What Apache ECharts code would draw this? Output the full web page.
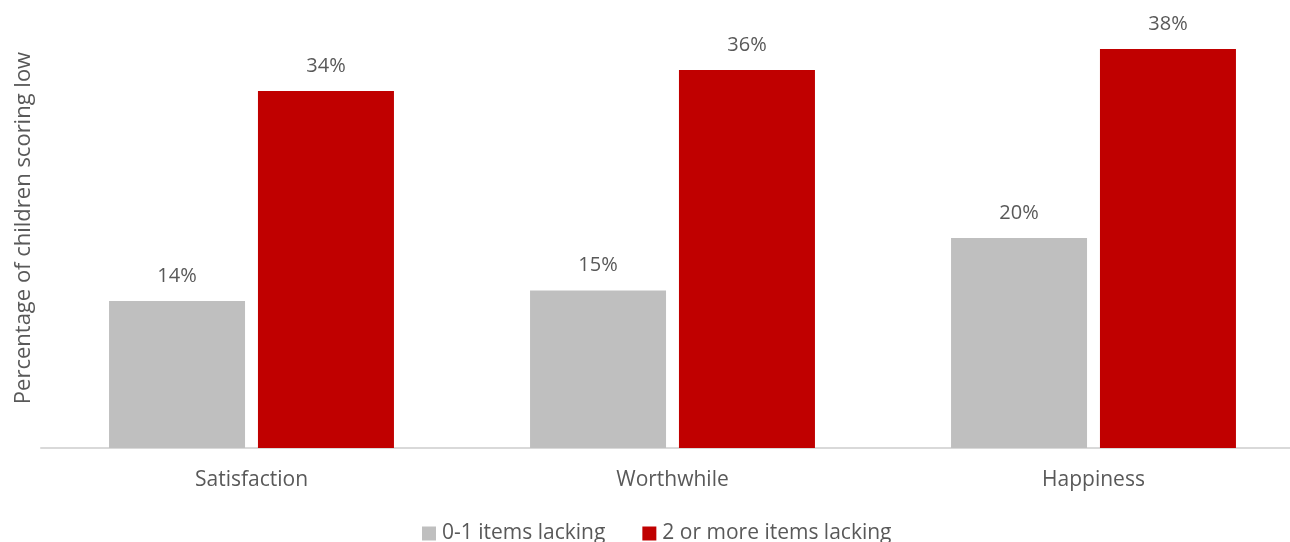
<!DOCTYPE html>
<html>
<head>
<meta charset="utf-8">
<script src="https://cdn.jsdelivr.net/npm/echarts@6/dist/echarts.min.js"></script>
<style>
  html, body { margin: 0; padding: 0; background: #fff; }
  #chart { width: 1290px; height: 542px; }
</style>
</head>
<body>
<div id="chart"></div>
<script>
// Share of children scoring low on each wellbeing measure, by items lacking
const categories = ['Satisfaction', 'Worthwhile', 'Happiness'];
const lowLacking = [14, 15, 20];      // 0-1 items lacking
const highLacking = [34, 36, 38];     // 2 or more items lacking
const seriesNames = ['0-1 items lacking', '2 or more items lacking'];

const FONT = '"Open Sans", "Noto Sans", sans-serif';
const TEXT = '#595959';

const chart = echarts.init(document.getElementById('chart'));
chart.setOption({
  animation: false,
  textStyle: { fontFamily: FONT, color: TEXT },
  grid: { left: 41, top: 28, width: 1263, height: 420, containLabel: false, outerBoundsMode: 'none' },
  legend: {
    top: 523,
    left: 422,
    padding: 0,
    itemWidth: 14,
    itemHeight: 14,
    itemGap: 37,
    icon: 'rect',
    textStyle: { fontFamily: FONT, fontSize: 21, color: TEXT, padding: [0, 0, 0, 1] },
    data: seriesNames
  },
  xAxis: {
    type: 'category',
    data: categories,
    axisLine: { lineStyle: { color: '#d9d9d9', width: 2 } },
    axisTick: { show: false },
    axisLabel: { fontFamily: FONT, fontSize: 21, color: TEXT, margin: 22 }
  },
  yAxis: {
    type: 'value',
    min: 0,
    max: 40,
    interval: 10,
    name: 'Percentage of children scoring low',
    nameLocation: 'middle',
    nameGap: 6,
    nameTextStyle: { fontFamily: FONT, fontSize: 22, color: TEXT, padding: [0, 0, 0, 20] },
    axisLine: { show: false },
    axisTick: { show: false },
    axisLabel: { show: false },
    splitLine: { show: false }
  },
  series: [
    {
      name: seriesNames[0],
      type: 'bar',
      data: lowLacking,
      barWidth: 136,
      barGap: '9.5%',
      itemStyle: { color: '#bfbfbf' },
      label: {
        show: true, position: 'top', distance: 15,
        formatter: p => p.value + '%',
        fontFamily: FONT, fontSize: 20, color: TEXT
      }
    },
    {
      name: seriesNames[1],
      type: 'bar',
      data: highLacking,
      barWidth: 136,
      itemStyle: { color: '#c00000' },
      label: {
        show: true, position: 'top', distance: 15,
        formatter: p => p.value + '%',
        fontFamily: FONT, fontSize: 20, color: TEXT
      }
    }
  ]
});
</script>
</body>
</html>
